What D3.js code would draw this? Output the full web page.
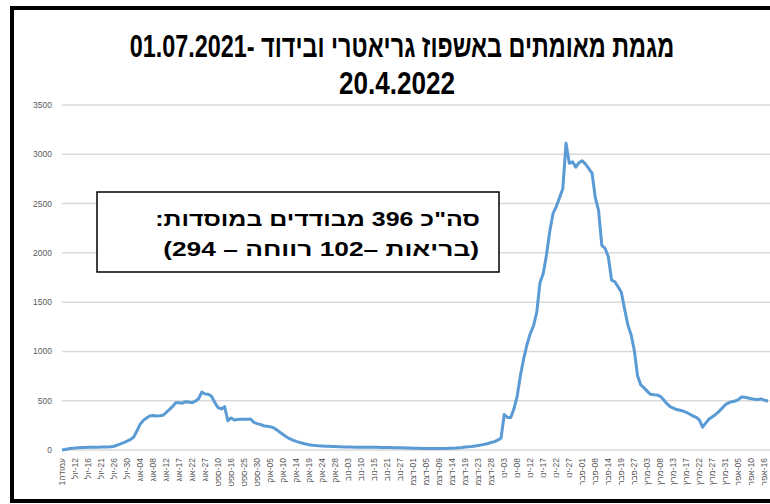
<!DOCTYPE html>
<html>
<head>
<meta charset="UTF-8">
<title>מגמת מאומתים</title>
<script src="https://d3js.org/d3.v7.min.js"></script>
<style>
  body { margin: 0; background: #fff; }
  svg { display: block; font-family: "Liberation Sans", Arial, sans-serif; }
  .ylab { font-size: 8.5px; fill: #595959; }
  .xlab { font-size: 8.5px; fill: #595959; }
</style>
</head>
<body>
<svg width="770" height="504"></svg>
<script>
// tick labels under the axis (one every 4 data points)
var labels = ["עמודה1", "12-יול", "16-יול", "21-יול", "26-יול", "30-יול",
  "04-אוג", "08-אוג", "12-אוג", "17-אוג", "22-אוג", "27-אוג",
  "10-ספט", "16-ספט", "25-ספט", "30-ספט",
  "05-אוק", "10-אוק", "14-אוק", "19-אוק", "24-אוק", "28-אוק",
  "03-נוב", "10-נוב", "15-נוב", "21-נוב", "27-נוב",
  "01-דצמ", "05-דצמ", "09-דצמ", "14-דצמ", "19-דצמ", "23-דצמ", "28-דצמ",
  "03-ינו", "08-ינו", "12-ינו", "17-ינו", "22-ינו", "27-ינו",
  "01-פבר", "08-פבר", "14-פבר", "19-פבר", "27-פבר",
  "03-מרץ", "08-מרץ", "13-מרץ", "17-מרץ", "22-מרץ", "27-מרץ", "31-מרץ",
  "05-אפר", "10-אפר", "16-אפר"];
var perLabel = 4;

// confirmed cases
var cases = [
  0, 6, 12, 17, 20, 24, 25, 26, 27, 28,
  29, 29, 30, 31, 31, 32, 38, 50, 62, 75,
  90, 105, 130, 190, 260, 300, 325, 345, 350, 345,
  348, 352, 380, 410, 442, 480, 480, 475, 490, 486,
  480, 495, 520, 588, 568, 565, 545, 480, 430, 416,
  440, 297, 325, 305, 310, 311, 312, 313, 314, 280,
  268, 260, 246, 242, 236, 227, 205, 180, 158, 135,
  115, 100, 88, 78, 68, 60, 54, 49, 45, 42,
  40, 38, 37, 36, 35, 34, 32, 31, 30, 30,
  29, 29, 29, 28, 28, 28, 27, 27, 26, 26,
  25, 25, 24, 23, 22, 22, 21, 20, 19, 18,
  17, 16, 16, 15, 15, 15, 15, 15, 16, 17,
  18, 20, 23, 26, 30, 33, 36, 40, 45, 52,
  58, 66, 76, 85, 100, 120, 360, 330, 330, 420,
  550, 760, 930, 1070, 1180, 1260, 1400, 1700, 1790, 1980,
  2220, 2400, 2470, 2560, 2650, 3111, 2908, 2924, 2870, 2915,
  2934, 2900, 2855, 2810, 2560, 2430, 2075, 2046, 1960, 1724,
  1707, 1656, 1600, 1430, 1270, 1170, 1010, 750, 660, 630,
  595, 565, 560, 558, 545, 510, 470, 440, 425, 410,
  403, 395, 382, 365, 345, 332, 305, 232, 275, 315,
  338, 360, 390, 425, 460, 478, 490, 497, 510, 538,
  535, 528, 520, 515, 512, 518, 505, 498, 490];

var yTicks = [0, 500, 1000, 1500, 2000, 2500, 3000, 3500];

var title1 = "מגמת מאומתים באשפוז גריאטרי ובידוד -01.07.2021";
var title2 = "20.4.2022";
var note1 = "סה\"כ 396 מבודדים במוסדות:";
var note2 = "(בריאות –102  רווחה – 294)";

var svg = d3.select("svg");

var x = d3.scaleLinear()
  .domain([0, (labels.length - 1) * perLabel])
  .range([62, 764.4]);
var y = d3.scaleLinear().domain([0, 3500]).range([450, 105]);

// squeeze/stretch a text horizontally so it is `w` px wide, keeping its anchor x
function fitWidth(t, w, ax) {
  var n = t.node().getComputedTextLength();
  var k = w / n;
  t.attr("transform", "translate(" + ax + ",0) scale(" + k + ",1) translate(" + (-ax) + ",0)");
}

// frame
svg.append("rect")
  .attr("x", 12).attr("y", 8)
  .attr("width", 800).attr("height", 493)
  .attr("fill", "none").attr("stroke", "#000").attr("stroke-width", 4);

// gridlines + y labels
svg.selectAll(".grid").data(yTicks).enter().append("line")
  .attr("x1", 62).attr("x2", 770)
  .attr("y1", function(d) { return y(d); })
  .attr("y2", function(d) { return y(d); })
  .attr("stroke", "#d9d9d9").attr("stroke-width", 1.5);

svg.selectAll(".ylab").data(yTicks).enter().append("text")
  .attr("class", "ylab")
  .attr("x", 52)
  .attr("y", function(d) { return y(d) + 3; })
  .attr("text-anchor", "end")
  .text(function(d) { return d; });

// x labels, rotated
svg.selectAll(".xlab").data(labels).enter().append("text")
  .attr("class", "xlab")
  .attr("direction", "rtl")
  .attr("text-anchor", "start")
  .attr("transform", function(d, i) {
    return "translate(" + (x(i * perLabel) + 3) + ",458) rotate(-90)";
  })
  .text(function(d) { return d; });

// line
svg.append("clipPath").attr("id", "plot")
  .append("rect").attr("x", 55).attr("y", 90).attr("width", 713).attr("height", 370);

var line = d3.line()
  .x(function(d, i) { return x(i); })
  .y(function(d) { return y(d); });

svg.append("path")
  .datum(cases)
  .attr("clip-path", "url(#plot)")
  .attr("d", line)
  .attr("fill", "none")
  .attr("stroke", "#5b9bd5")
  .attr("stroke-width", 3)
  .attr("stroke-linejoin", "round");

// title
var t1 = svg.append("text")
  .attr("x", 402).attr("y", 57)
  .attr("text-anchor", "middle")
  .attr("direction", "rtl")
  .attr("font-size", 32).attr("font-weight", "bold")
  .text(title1);
fitWidth(t1, 545, 402);
var t2 = svg.append("text")
  .attr("x", 397).attr("y", 94)
  .attr("text-anchor", "middle")
  .attr("font-size", 32).attr("font-weight", "bold")
  .text(title2);
fitWidth(t2, 116, 397);

// note box
svg.append("rect")
  .attr("x", 97).attr("y", 192)
  .attr("width", 402).attr("height", 80)
  .attr("fill", "#fff").attr("stroke", "#000").attr("stroke-width", 1.5);
var n1 = svg.append("text")
  .attr("x", 480).attr("y", 226)
  .attr("direction", "rtl").attr("text-anchor", "start")
  .attr("font-size", 20).attr("font-weight", "bold")
  .text(note1);
fitWidth(n1, 325, 480);
var n2 = svg.append("text")
  .attr("x", 479).attr("y", 256)
  .attr("direction", "rtl").attr("text-anchor", "start")
  .attr("font-size", 20).attr("font-weight", "bold")
  .text(note2);
fitWidth(n2, 316, 479);
</script>
</body>
</html>
